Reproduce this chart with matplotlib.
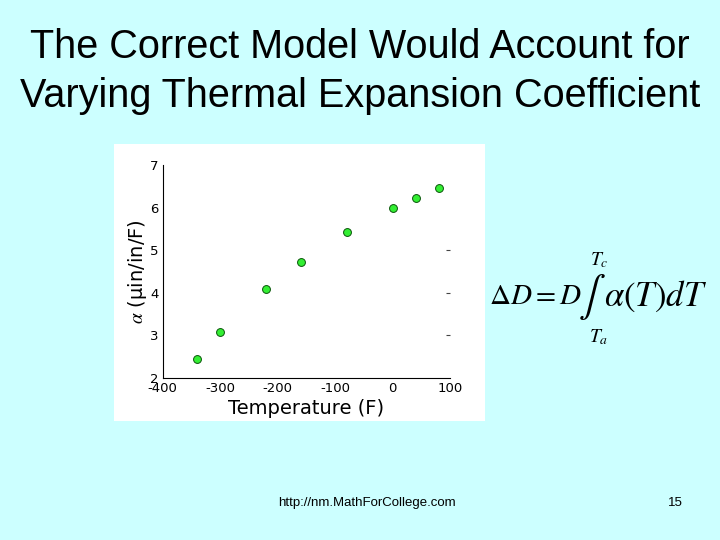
import matplotlib.pyplot as plt
from matplotlib.patches import Rectangle

plt.rcParams['mathtext.fontset'] = 'stix'
plt.rcParams['axes.unicode_minus'] = False

temperature = [-340, -300, -220, -160, -80, 0, 40, 80]
alpha = [2.45, 3.07, 4.08, 4.72, 5.43, 6.00, 6.24, 6.47]
xticks = [-400, -300, -200, -100, 0, 100]
yticks = [2, 3, 4, 5, 6, 7]

fig = plt.figure(figsize=(7.2, 5.4), dpi=100)
fig.patch.set_facecolor('#ccffff')

# white picture behind the plot
fig.patches.append(Rectangle((114 / 720, 1 - 421 / 540), 371 / 720, 277 / 540,
                             transform=fig.transFigure, facecolor='white',
                             edgecolor='none', zorder=-1))

fig.text(0.5, 1 - 47 / 540, 'The Correct Model Would Account for', ha='center', va='center',
         fontsize=28.5, family='Liberation Sans')
fig.text(0.5, 1 - 96 / 540, 'Varying Thermal Expansion Coefficient', ha='center', va='center',
         fontsize=28.5, family='Liberation Sans')

ax = fig.add_axes([0.226, 0.3, 0.399, 0.394])
ax.set_facecolor('white')
ax.scatter(temperature, alpha, s=32, c='#33ee33', edgecolors='#0a550a', linewidths=0.7, zorder=3)
ax.set_xlim(-400, 100)
ax.set_ylim(2, 7)
ax.set_xticks(xticks)
ax.set_yticks(yticks)
ax.spines['top'].set_visible(False)
ax.spines['right'].set_visible(False)
ax.tick_params(direction='in', length=0, labelsize=9.5, pad=3)
ax.set_xlabel('Temperature (F)', fontsize=14, labelpad=3)
ax.set_ylabel(r'$\alpha$ (µin/in/F)', fontsize=14, labelpad=1)

# stray right-side ticks
ax2 = ax.twinx()
ax2.set_ylim(2, 7)
ax2.set_yticks([3, 4, 5])
ax2.set_yticklabels([])
ax2.tick_params(direction='in', length=3, width=0.8, color='#444444')
for s in ax2.spines.values():
    s.set_visible(False)

eq_y = 1 - 296 / 540
fig.text(582 / 720, eq_y, r'$\Delta D = D$', fontsize=21, va='center', ha='right')
fig.text(592 / 720, 1 - 297 / 540, r'$\int$', fontsize=29, va='center', ha='center')
fig.text(604 / 720, eq_y, r'$\alpha(T)dT$', fontsize=25, va='center', ha='left')
fig.text(599 / 720, 1 - 260 / 540, r'$T_c$', fontsize=14, ha='center', va='center')
fig.text(599 / 720, 1 - 337 / 540, r'$T_a$', fontsize=14, ha='center', va='center')

fig.text(0.386, 0.068, 'http://nm.MathForCollege.com', fontsize=9.5, ha='left', va='center',
         family='Liberation Sans')
fig.text(0.928, 0.068, '15', fontsize=9.5, ha='left', va='center', family='Liberation Sans')

fig.savefig('out.png', dpi=100, facecolor=fig.get_facecolor())
